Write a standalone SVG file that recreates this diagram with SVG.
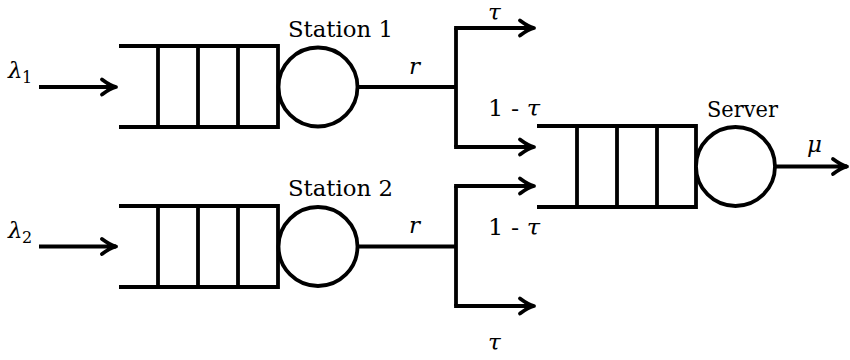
<svg xmlns="http://www.w3.org/2000/svg" width="850" height="360" viewBox="0 0 850 360">
  <style>
    .ln { stroke: #000; stroke-width: 3.8; fill: none; stroke-linecap: butt; stroke-linejoin: miter; }
    .circ { stroke: #000; stroke-width: 3.8; fill: #fff; }
    text { font-family: 'DejaVu Serif', 'Liberation Serif', serif; fill: #000; }
    .lbl { font-size: 23px; }
    .math { font-style: italic; font-size: 23px; }
    .sub { font-size: 16px; }
  </style>
  <defs>
    <marker id="arr" markerUnits="userSpaceOnUse" markerWidth="20" markerHeight="20" refX="0" refY="0" viewBox="-16 -10 18 20" orient="auto" overflow="visible">
      <path d="M -14,-7.5 Q -6,-1.5 0,0 Q -6,1.5 -14,7.5" fill="none" stroke="#000" stroke-width="3.8" stroke-linecap="round" stroke-linejoin="round"/>
      <path d="M 1,0 L -11,-5 L -8,0 L -11,5 Z" fill="#000"/>
    </marker>
  </defs>
  <rect width="850" height="360" fill="#fff"/>

  <g id="station1">
    <path class="ln" d="M 119,46 H 278 V 127 H 119 M 158,46 V 127 M 198,46 V 127 M 238,46 V 127"/>
    <circle class="circ" cx="318" cy="87" r="39.5"/>
    <text class="lbl" x="288" y="37" textLength="105" lengthAdjust="spacingAndGlyphs">Station 1</text>
  </g>

  <g id="station2">
    <path class="ln" d="M 119,206 H 278 V 287 H 119 M 158,206 V 287 M 198,206 V 287 M 238,206 V 287"/>
    <circle class="circ" cx="318" cy="246.5" r="39.5"/>
    <text class="lbl" x="288" y="196" textLength="105" lengthAdjust="spacingAndGlyphs">Station 2</text>
  </g>

  <g id="server">
    <path class="ln" d="M 537,126 H 696 V 207 H 537 M 577,126 V 207 M 617,126 V 207 M 657,126 V 207"/>
    <circle class="circ" cx="735.5" cy="166.5" r="39.5"/>
    <text class="lbl" x="707" y="117" textLength="71" lengthAdjust="spacingAndGlyphs">Server</text>
  </g>

  <g id="connectors">
    <path class="ln" d="M 39,87 H 116" marker-end="url(#arr)"/>
    <path class="ln" d="M 39,246.5 H 116" marker-end="url(#arr)"/>
    <path class="ln" d="M 357.5,87 H 456"/>
    <path class="ln" d="M 456,28 V 147"/>
    <path class="ln" d="M 454.1,28 H 534" marker-end="url(#arr)"/>
    <path class="ln" d="M 454.1,147 H 534" marker-end="url(#arr)"/>
    <path class="ln" d="M 357.5,246.5 H 456"/>
    <path class="ln" d="M 456,186 V 306"/>
    <path class="ln" d="M 454.1,186 H 534" marker-end="url(#arr)"/>
    <path class="ln" d="M 454.1,306 H 534" marker-end="url(#arr)"/>
    <path class="ln" d="M 775,166.5 H 847" marker-end="url(#arr)"/>
  </g>

  <g id="labels">
    <text class="math" x="8" y="78">λ</text><text class="sub" x="22" y="83">1</text>
    <text class="math" x="8" y="238">λ</text><text class="sub" x="22" y="243">2</text>
    <text class="math" x="409" y="74">r</text>
    <text class="math" x="409" y="233">r</text>
    <text class="math" x="488" y="20" font-size="21">τ</text>
    <text class="lbl" x="488" y="116" textLength="52" lengthAdjust="spacingAndGlyphs">1 - <tspan class="math">τ</tspan></text>
    <text class="lbl" x="488" y="235" textLength="52" lengthAdjust="spacingAndGlyphs">1 - <tspan class="math">τ</tspan></text>
    <text class="math" x="488" y="350">τ</text>
    <text class="math" x="807" y="152">μ</text>
  </g>
</svg>
